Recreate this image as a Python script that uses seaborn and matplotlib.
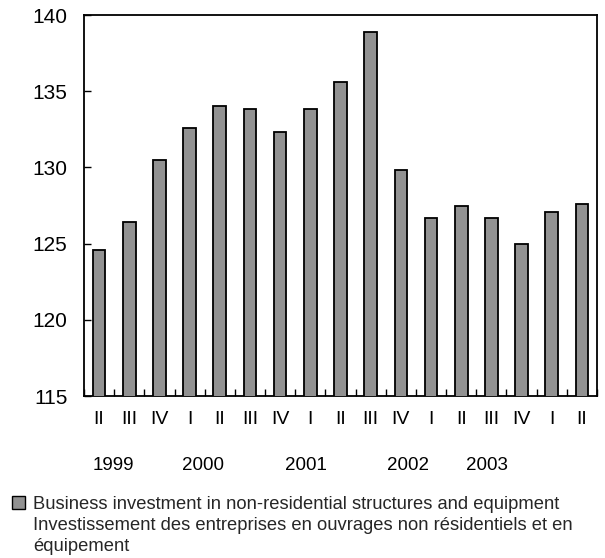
import matplotlib
matplotlib.use("Agg")
import matplotlib.pyplot as plt
import matplotlib.transforms as mtransforms
from matplotlib.patches import Patch
import seaborn as sns
import pandas as pd
import numpy as np

# ---- data ----
periods = ["1999 II", "1999 III", "1999 IV",
           "2000 I", "2000 II", "2000 III", "2000 IV",
           "2001 I", "2001 II", "2001 III", "2001 IV",
           "2002 I", "2002 II", "2002 III", "2002 IV",
           "2003 I", "2003 II"]
quarter_labels = ["II", "III", "IV", "I", "II", "III", "IV", "I", "II", "III",
                  "IV", "I", "II", "III", "IV", "I", "II"]
values = [124.6, 126.4, 130.5, 132.6, 134.0, 133.8, 132.3, 133.8, 135.6,
          138.9, 129.8, 126.7, 127.5, 126.7, 125.0, 127.1, 127.6]
year_labels = ["1999", "2000", "2001", "2002", "2003"]
year_positions = [0.47, 3.45, 6.85, 10.24, 12.85]
series_label = ["Business investment in non-residential structures and equipment",
                "Investissement des entreprises en ouvrages non résidentiels et en",
                "équipement"]

df = pd.DataFrame({"period": periods, "value": values})

sns.set_theme(style="white")
plt.rcParams["font.family"] = ["Liberation Sans", "DejaVu Sans"]

fig = plt.figure(figsize=(6.05, 5.58), dpi=100)
ax = fig.add_axes([84 / 605, 1 - 396 / 558, (597 - 84) / 605, (396 - 15) / 558])

sns.barplot(data=df, x="period", y="value", order=periods, color="#929292",
            edgecolor="black", linewidth=1.3, width=0.42, saturation=1,
            ax=ax, zorder=3)
for p in ax.patches:
    p.set_facecolor("#929292")
    p.set_edgecolor("black")

ax.set_ylim(115, 140)
ax.set_xlim(-0.5, len(periods) - 0.5)
ax.set_yticks([115, 120, 125, 130, 135, 140])
ax.set_xticks(range(len(periods)))
ax.set_xticklabels(quarter_labels)
ax.set_xticks(np.arange(-0.5, len(periods), 1.0), minor=True)
ax.set_xlabel("")
ax.set_ylabel("")

for s in ax.spines.values():
    s.set_visible(True)
    s.set_color("black")
    s.set_linewidth(1.3)

ax.tick_params(axis="y", direction="in", length=5, width=1, color="black",
               left=True, pad=12, labelsize=15, labelcolor="black")
ax.tick_params(axis="x", which="major", length=0, pad=11, labelsize=14,
               labelcolor="black")
ax.tick_params(axis="x", which="minor", direction="in", length=5, width=1,
               color="black", bottom=True)

trans = mtransforms.blended_transform_factory(ax.transData, fig.transFigure)
for lab, pos in zip(year_labels, year_positions):
    ax.text(pos, 1 - 465 / 558, lab, transform=trans, ha="center", va="center",
            fontsize=13.5, color="black")

handles = [Patch(facecolor="#929292", edgecolor="black", linewidth=1.0),
           Patch(facecolor="none", edgecolor="none", linewidth=0),
           Patch(facecolor="none", edgecolor="none", linewidth=0)]
fig.legend(handles=handles, labels=series_label, loc="upper left",
           bbox_to_anchor=(12 / 605, 1 - 496 / 558), frameon=False,
           fontsize=13.2, handlelength=0.72, handleheight=0.72,
           handletextpad=0.42, labelspacing=0.22, borderpad=0,
           borderaxespad=0)

fig.savefig("out.png", dpi=100)
